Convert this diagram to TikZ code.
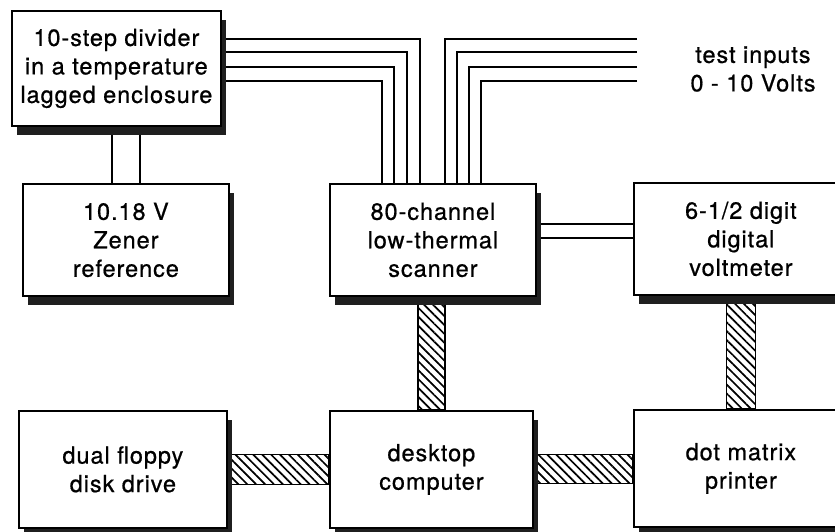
\documentclass[tikz,border=0pt]{standalone}
\usepackage{fontspec}
\setmainfont{TeX Gyre Heros}[LetterSpace=4, FakeBold=0.7]
\usetikzlibrary{patterns.meta,shadows}
\pgfdeclarelayer{bg}
\pgfsetlayers{bg,main}
\begin{document}
\begin{tikzpicture}[x=1pt,y=-1pt,
  box/.style={draw, line width=1.8pt, fill=white, align=center, inner sep=0pt,
    anchor=north west, font=\fontsize{23.5}{28.5}\selectfont,
    drop shadow={shadow xshift=5pt, shadow yshift=-9pt, fill=black!88, opacity=1}},
  lbl/.style={align=center, inner sep=0pt, font=\fontsize{23.5}{28.5}\selectfont},
  wire/.style={line width=1.8pt},
  hatch/.style={draw, line width=1.8pt, pattern={Lines[angle=-45, distance=6.3pt, line width=1.7pt]}}]
\useasboundingbox (0,0) rectangle (835,531);
\clip (0,0) rectangle (835,531);

\node[box, minimum width=209pt, minimum height=115pt] (divider) at (11,10)
  {10-step divider\\in a temperature\\lagged enclosure};
\node[box, minimum width=206pt, minimum height=112pt] (zener) at (22,183)
  {10.18 V\\Zener\\reference};
\node[box, minimum width=206pt, minimum height=112pt] (scanner) at (329,183)
  {80-channel\\low-thermal\\scanner};
\node[box, minimum width=214pt, minimum height=112pt] (dvm) at (633,182)
  {6-1/2 digit\\digital\\voltmeter};
\node[box, minimum width=208pt, minimum height=117pt] (floppy) at (18,410)
  {dual floppy\\disk drive};
\node[box, minimum width=203pt, minimum height=117pt] (computer) at (329,410)
  {desktop\\computer};
\node[box, minimum width=214pt, minimum height=117pt] (printer) at (633,409)
  {dot matrix\\printer};
\node[lbl] (inputs) at (753,69) {test inputs\\0 - 10 Volts};

\coordinate (in1) at (637,39);
\coordinate (in2) at (637,52);
\coordinate (in3) at (637,67);
\coordinate (in4) at (637,81);

\begin{pgfonlayer}{bg}
  % divider to zener pipe
  \draw[wire] ([xshift=-14pt]zener.north) -- ([xshift=-14pt]zener.north |- divider.south);
  \draw[wire] ([xshift=14pt]zener.north) -- ([xshift=14pt]zener.north |- divider.south);
  % divider wires to scanner
  \draw[wire] (divider.east |- 0,39) -| (420,0 |- scanner.north);
  \draw[wire] (divider.east |- 0,52) -| (407,0 |- scanner.north);
  \draw[wire] (divider.east |- 0,67) -| (394,0 |- scanner.north);
  \draw[wire] (divider.east |- 0,81) -| (382,0 |- scanner.north);
  % test input wires to scanner
  \draw[wire] (in1) -| (445,0 |- scanner.north);
  \draw[wire] (in2) -| (457,0 |- scanner.north);
  \draw[wire] (in3) -| (469,0 |- scanner.north);
  \draw[wire] (in4) -| (481,0 |- scanner.north);
  % scanner to dvm pipe
  \draw[wire] ([yshift=16pt]scanner.east) -- ([yshift=16pt]scanner.east -| dvm.west);
  \draw[wire] ([yshift=2pt]scanner.east) -- ([yshift=2pt]scanner.east -| dvm.west);
  % hatched buses
  \draw[hatch] ([xshift=-13.5pt]computer.north |- scanner.south) rectangle ([xshift=13.5pt]computer.north);
  \draw[hatch] ([xshift=-14.5pt]dvm.south) rectangle ([xshift=14.5pt]dvm.south |- printer.north);
  \draw[hatch] ([yshift=15pt]floppy.east) rectangle ([yshift=-15pt]computer.west);
  \draw[hatch] ([yshift=15pt]computer.east) rectangle ([yshift=-15pt]printer.west);
\end{pgfonlayer}
\end{tikzpicture}
\end{document}
